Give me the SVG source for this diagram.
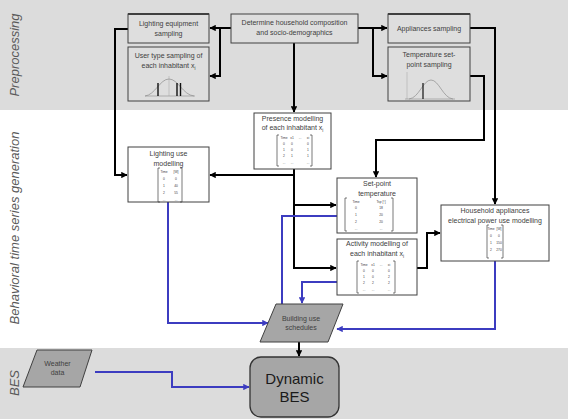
<svg xmlns="http://www.w3.org/2000/svg" width="568" height="419" viewBox="0 0 568 419">
<defs>
<marker id="ab" viewBox="0 0 10 10" refX="9" refY="5" markerWidth="3.2" markerHeight="3.2" orient="auto"><path d="M0,0 L10,5 L0,10 z" fill="#000"/></marker>
<marker id="au" viewBox="0 0 10 10" refX="9" refY="5" markerWidth="3.2" markerHeight="3.2" orient="auto"><path d="M0,0 L10,5 L0,10 z" fill="#3c3cc0"/></marker>
<style>
.band{fill:#dcdcdc}
.lbl{font-family:"Liberation Sans",Arial,sans-serif;font-style:italic;font-size:13px;fill:#595959}
.box{fill:#fff;stroke:#404040;stroke-width:1}
.pbox{fill:#dedede;stroke:#404040;stroke-width:1}
.t{font-family:"Liberation Sans",Arial,sans-serif;font-size:7px;fill:#404040;text-anchor:middle}
.tt{font-family:"Liberation Sans",Arial,sans-serif;font-size:3.3px;fill:#404040;text-anchor:middle}
.br{fill:none;stroke:#404040;stroke-width:0.7}
.k{fill:none;stroke:#000;stroke-width:2;marker-end:url(#ab)}
.kn{fill:none;stroke:#000;stroke-width:2}
.u{fill:none;stroke:#3c3cc0;stroke-width:2;marker-end:url(#au)}
.sh{fill:#a6a6a6;stroke:#404040;stroke-width:1}
.curve{fill:none;stroke:#8c8c8c;stroke-width:0.7}
</style>
</defs>
<rect width="568" height="419" fill="#fff"/>
<rect class="band" x="0" y="0" width="568" height="110"/>
<rect class="band" x="0" y="348" width="568" height="71"/>
<text class="lbl" transform="translate(19,55) rotate(-90)" text-anchor="middle">Preprocessing</text>
<text class="lbl" transform="translate(19,228) rotate(-90)" text-anchor="middle">Behavioral time series generation</text>
<text class="lbl" transform="translate(19,383) rotate(-90)" text-anchor="middle">BES</text>

<g id="connectors">
<path class="k" d="M231,28 H210"/>
<path class="k" d="M220,28 V76 H210"/>
<path class="k" d="M358,28 H387"/>
<path class="k" d="M373,28 V76 H387"/>
<path class="k" d="M294,43 V112"/>
<path class="k" d="M128,29 H115 V175 H127"/>
<path class="k" d="M294,169 V268 H336"/>
<path class="k" d="M294,175 H210"/>
<path class="k" d="M294,205 H336"/>
<path class="k" d="M470,28 H495 V204"/>
<path class="k" d="M470,76 H484 V140 H376 V177"/>
<path class="k" d="M417,268 H427 V233 H440"/>
<path class="k" d="M299,342 V356"/>
<path class="u" d="M168,202 V323 H268"/>
<path class="u" d="M337,216 H282 V311"/>
<path class="u" d="M337,282 H302 V303"/>
<path class="u" d="M495,261 V329 H337"/>
<path class="u" d="M95,372 H172 V387 H249"/>
</g>

<g id="lighting-equipment-sampling">
<rect class="pbox" x="128" y="14" width="81" height="29"/>
<line x1="128" y1="14" x2="209" y2="14" stroke="#404040" stroke-width="2"/>
<text class="t" x="168.5" y="26">Lighting equipment</text>
<text class="t" x="168.5" y="36">sampling</text>
</g>

<g id="user-type-sampling">
<rect class="pbox" x="128" y="47" width="81" height="54"/>
<text class="t" x="168.5" y="58">User type sampling of</text>
<text class="t" x="168.5" y="68">each inhabitant x<tspan font-size="4.5" dy="1.5">i</tspan></text>
<line x1="145" y1="96" x2="195" y2="96" stroke="#8c8c8c" stroke-width="0.6"/>
<line x1="169" y1="76" x2="169" y2="96" stroke="#a0a0a0" stroke-width="0.5"/>
<path class="curve" d="M145,96 C155,95 160,79 169,79 C178,79 183,95 194,96"/>
<line x1="158" y1="83" x2="158" y2="96" stroke="#111" stroke-width="1.4"/>
<line x1="177" y1="83" x2="177" y2="96" stroke="#111" stroke-width="1.4"/>
<line x1="180.5" y1="83" x2="180.5" y2="96" stroke="#111" stroke-width="1.4"/>
</g>

<g id="determine-household">
<rect class="pbox" x="231" y="14" width="127" height="29"/>
<text class="t" x="294.5" y="25">Determine household composition</text>
<text class="t" x="294.5" y="35">and socio-demographics</text>
</g>

<g id="appliances-sampling">
<rect class="pbox" x="388" y="14" width="82" height="29"/>
<line x1="388" y1="14" x2="470" y2="14" stroke="#404040" stroke-width="2"/>
<text class="t" x="429" y="31">Appliances sampling</text>
</g>

<g id="temperature-setpoint-sampling">
<rect class="pbox" x="388" y="47" width="82" height="54"/>
<text class="t" x="429" y="57">Temperature set-</text>
<text class="t" x="429" y="67">point sampling</text>
<line x1="407" y1="72" x2="407" y2="99" stroke="#a0a0a0" stroke-width="0.5"/>
<line x1="405" y1="99" x2="455" y2="99" stroke="#8c8c8c" stroke-width="0.6"/>
<path class="curve" d="M409,99 C419,98 423,80 431,80 C439,80 443,98 453,99"/>
<line x1="423" y1="83" x2="423" y2="99" stroke="#111" stroke-width="1.2"/>
</g>

<g id="presence-modelling">
<rect class="box" x="254" y="113" width="77" height="56"/>
<text class="t" x="292.5" y="121">Presence modelling</text>
<text class="t" x="292.5" y="130">of each inhabitant x<tspan font-size="4.5" dy="1.5">i</tspan></text>
<path class="br" d="M279,135 H277 V166 H279 M310,135 H312 V166 H310"/>
<text class="tt" x="284" y="139">Time</text><text class="tt" x="292" y="139">x1</text><text class="tt" x="300" y="139">...</text><text class="tt" x="308" y="139">xi</text>
<text class="tt" x="284" y="145">0</text><text class="tt" x="292" y="145">0</text><text class="tt" x="308" y="145">0</text>
<text class="tt" x="284" y="151">1</text><text class="tt" x="292" y="151">0</text><text class="tt" x="308" y="151">1</text>
<text class="tt" x="284" y="157">2</text><text class="tt" x="292" y="157">1</text><text class="tt" x="308" y="157">1</text>
<text class="tt" x="284" y="164">...</text><text class="tt" x="292" y="164">...</text><text class="tt" x="308" y="164">...</text>
</g>

<g id="lighting-use-modelling">
<rect class="box" x="128" y="147" width="81" height="55"/>
<text class="t" x="168.5" y="156">Lighting use</text>
<text class="t" x="168.5" y="166" font-size="8">modelling</text>
<path class="br" d="M160,168 H158 V202 H160 M180,168 H182 V202 H180"/>
<text class="tt" x="164" y="173">Time</text><text class="tt" x="176" y="173">[W]</text>
<text class="tt" x="164" y="180">0</text><text class="tt" x="176" y="180">0</text>
<text class="tt" x="164" y="187">1</text><text class="tt" x="176" y="187">40</text>
<text class="tt" x="164" y="194">2</text><text class="tt" x="176" y="194">55</text>
<text class="tt" x="164" y="201">...</text><text class="tt" x="176" y="201">...</text>
</g>

<g id="setpoint-temperature">
<rect class="box" x="337" y="178" width="80" height="55"/>
<text class="t" x="377" y="186">Set-point</text>
<text class="t" x="377" y="196">temperature</text>
<path class="br" d="M347,198 H345 V231 H347 M391,198 H393 V231 H391"/>
<text class="tt" x="356" y="203">Time</text><text class="tt" x="381" y="203">Tsp [°]</text>
<text class="tt" x="356" y="209">0</text><text class="tt" x="381" y="209">18</text>
<text class="tt" x="356" y="216">1</text><text class="tt" x="381" y="216">20</text>
<text class="tt" x="356" y="223">2</text><text class="tt" x="381" y="223">20</text>
<text class="tt" x="356" y="230">...</text><text class="tt" x="381" y="230">...</text>
</g>

<g id="activity-modelling">
<rect class="box" x="337" y="239" width="80" height="56"/>
<text class="t" x="377" y="246">Activity modelling of</text>
<text class="t" x="377" y="256">each inhabitant x<tspan font-size="4.5" dy="1.5">i</tspan></text>
<path class="br" d="M359,261 H357 V293 H359 M393,261 H395 V293 H393"/>
<text class="tt" x="364" y="266">Time</text><text class="tt" x="373" y="266">x1</text><text class="tt" x="381" y="266">...</text><text class="tt" x="389" y="266">xi</text>
<text class="tt" x="364" y="272">0</text><text class="tt" x="373" y="272">0</text><text class="tt" x="389" y="272">0</text>
<text class="tt" x="364" y="278">1</text><text class="tt" x="373" y="278">0</text><text class="tt" x="389" y="278">2</text>
<text class="tt" x="364" y="284">2</text><text class="tt" x="373" y="284">2</text><text class="tt" x="389" y="284">2</text>
<text class="tt" x="364" y="291">...</text><text class="tt" x="373" y="291">...</text><text class="tt" x="389" y="291">...</text>
</g>

<g id="household-appliances-modelling">
<rect class="box" x="441" y="205" width="108" height="56"/>
<text class="t" x="495" y="213">Household appliances</text>
<text class="t" x="495" y="223">electrical power use modelling</text>
<path class="br" d="M489,225 H487 V258 H489 M501,225 H503 V258 H501"/>
<text class="tt" x="491" y="230">Time</text><text class="tt" x="499" y="230">[W]</text>
<text class="tt" x="491" y="237">0</text><text class="tt" x="499" y="237">0</text>
<text class="tt" x="491" y="244">1</text><text class="tt" x="499" y="244">150</text>
<text class="tt" x="491" y="251">2</text><text class="tt" x="499" y="251">270</text>
</g>

<g id="building-use-schedules">
<polygon class="sh" points="276,304 343,304 328,342 260,342"/>
<text class="t" x="301" y="321" fill="#555">Building use</text>
<text class="t" x="301" y="330" fill="#555">schedules</text>
</g>

<g id="weather-data">
<polygon class="sh" points="37,350 92,350 80,387 23,387"/>
<text class="t" x="57.5" y="366" fill="#555">Weather</text>
<text class="t" x="57.5" y="375" fill="#555">data</text>
</g>

<g id="dynamic-bes">
<rect x="250" y="357" width="89" height="60" rx="11" fill="#a6a6a6" stroke="#333" stroke-width="1.3"/>
<text x="294.5" y="384" font-family="Liberation Sans, Arial, sans-serif" font-size="15" fill="#1a1a1a" text-anchor="middle">Dynamic</text>
<text x="294.5" y="402" font-family="Liberation Sans, Arial, sans-serif" font-size="15" fill="#1a1a1a" text-anchor="middle">BES</text>
</g>
</svg>
